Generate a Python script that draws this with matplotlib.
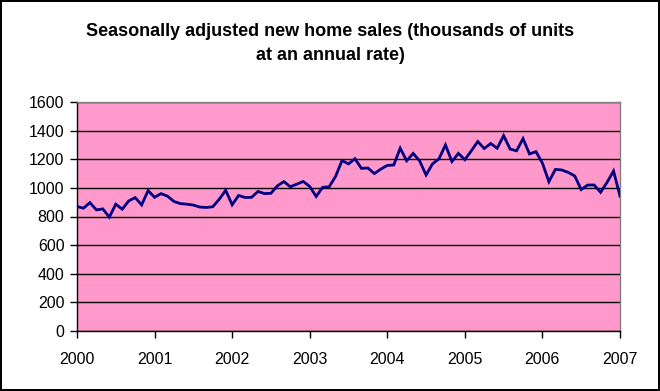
import matplotlib
matplotlib.use("Agg")
import matplotlib.pyplot as plt
import numpy as np

title = "Seasonally adjusted new home sales (thousands of units\nat an annual rate)"
year_labels = ["2000", "2001", "2002", "2003", "2004", "2005", "2006", "2007"]
y_ticks = [0, 200, 400, 600, 800, 1000, 1200, 1400, 1600]

# Monthly values, Jan 2000 .. Jan 2007
sales_2000 = [870, 858, 897, 846, 853, 795, 886, 851, 909, 932, 881, 981]
sales_2001 = [934, 960, 942, 905, 890, 886, 880, 866, 863, 868, 920, 983]
sales_2002 = [882, 947, 933, 934, 975, 960, 962, 1014, 1044, 1008, 1026, 1045]
sales_2003 = [1010, 940, 1004, 1007, 1080, 1191, 1167, 1204, 1136, 1139, 1100, 1131]
sales_2004 = [1157, 1160, 1277, 1189, 1241, 1189, 1090, 1168, 1203, 1300, 1184, 1241]
sales_2005 = [1197, 1259, 1324, 1275, 1310, 1277, 1365, 1271, 1259, 1344, 1237, 1253]
sales_2006 = [1173, 1043, 1129, 1125, 1108, 1083, 988, 1020, 1020, 969, 1039, 1118]
sales_2007 = [942]

sales = (sales_2000 + sales_2001 + sales_2002 + sales_2003 + sales_2004
         + sales_2005 + sales_2006 + sales_2007)

plt.rcParams['font.family'] = ['Liberation Sans', 'DejaVu Sans']

fig = plt.figure(figsize=(6.6, 3.91), dpi=100)
fig.patch.set_facecolor("white")
fig.patch.set_edgecolor("black")
fig.patch.set_linewidth(1.5)

ax = fig.add_axes([77/660, 1-331/391, (620-77)/660, (331-102)/391])
ax.set_facecolor("#FF99CC")

months = np.arange(len(sales)) / 12.0
ax.plot(months, sales, color="#000080", linewidth=2.0, solid_joinstyle="miter", zorder=3)

ax.set_xlim(0, 7)
ax.set_ylim(0, 1600)
ax.set_xticks(np.arange(len(year_labels)))
ax.set_xticklabels(year_labels)
ax.set_yticks(y_ticks)
ax.set_yticklabels([str(v) for v in y_ticks])
ax.yaxis.grid(True, color="black", linewidth=1.0)
ax.set_axisbelow(True)

for s in ["top", "right"]:
    ax.spines[s].set_color("#808080")
    ax.spines[s].set_linewidth(1.0)
for s in ["left", "bottom"]:
    ax.spines[s].set_color("black")
    ax.spines[s].set_linewidth(1.0)

ax.tick_params(axis="both", direction="out", length=5, width=1, color="black",
               labelsize=11.5, labelcolor="black")
ax.tick_params(axis="y", pad=4)
ax.tick_params(axis="x", pad=10)

fig.text(0.5, 1-43.5/391, title, ha="center", va="center", fontsize=13,
         fontweight="bold", linespacing=1.55)

fig.savefig("out.png", dpi=100, facecolor=fig.get_facecolor(), edgecolor=fig.get_edgecolor())
